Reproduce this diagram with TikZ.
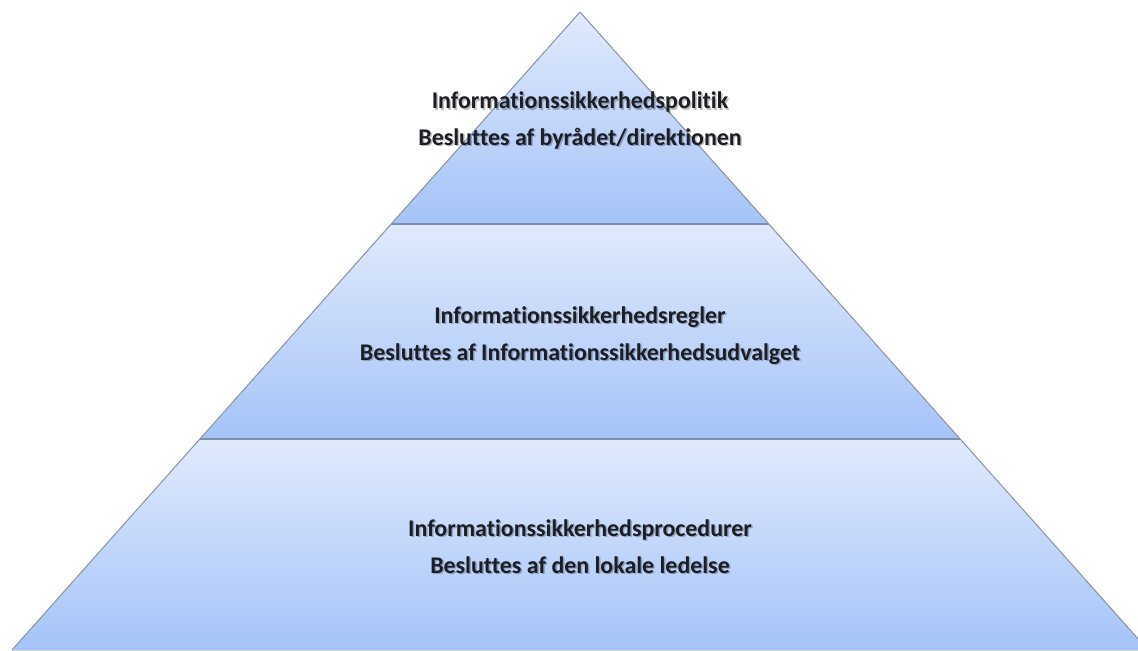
\documentclass[tikz,border=0pt]{standalone}
\usepackage{fontspec}
\setmainfont{Carlito}[Ligatures={NoCommon,NoRare}]
\usepackage{tikz}
\definecolor{bandtop}{HTML}{E0EAFC}
\definecolor{bandbot}{HTML}{A5C3F8}
\definecolor{edge}{HTML}{8E98A6}
\definecolor{divider}{HTML}{7B8FAD}
\definecolor{ink}{HTML}{1B1E24}
\tikzset{
  band/.style={top color=bandtop, bottom color=bandbot},
  outline/.style={draw=edge, line width=0.6pt, line join=round},
  divline/.style={draw=divider, line width=1.3pt},
  lab/.style={text=ink, font=\bfseries\fontsize{13.6}{21}\selectfont, align=center},
  labshadow/.style={lab, text=black, opacity=0.25},
}

\begin{document}
\begin{tikzpicture}[x=0.02cm, y=-0.02cm]
\clip (0,0) rectangle (1138,650);
% corners of the three bands
\coordinate (apex) at (580,12);
\coordinate (l1) at (391,224);
\coordinate (r1) at (769,224);
\coordinate (l2) at (200,439);
\coordinate (r2) at (960,439);
\coordinate (l3) at (12,650);
\coordinate (r3) at (1148,650);

% bands
\fill[band] (apex) -- (r1) -- (l1) -- cycle;
\fill[band] (l1) -- (r1) -- (r2) -- (l2) -- cycle;
\fill[band] (l2) -- (r2) -- (r3) -- (l3) -- cycle;
\draw[outline] (l3) -- (apex) -- (r3);
\draw[divline] (l1) -- (r1);
\draw[divline] (l2) -- (r2);

% labels
\node[labshadow] at (581.5,122) {Informationssikkerhedspolitik\\Besluttes af byrådet/direktionen};
\node[lab] (politik) at (580,120.5) {Informationssikkerhedspolitik\\Besluttes af byrådet/direktionen};
\node[labshadow] at (581.5,337) {Informationssikkerhedsregler\\Besluttes af Informationssikkerhedsudvalget};
\node[lab] (regler) at (580,335.5) {Informationssikkerhedsregler\\Besluttes af Informationssikkerhedsudvalget};
\node[labshadow] at (581.5,548) {Informationssikkerhedsprocedurer\\Besluttes af den lokale ledelse};
\node[lab] (procedurer) at (580,546.5) {Informationssikkerhedsprocedurer\\Besluttes af den lokale ledelse};
\end{tikzpicture}
\end{document}
